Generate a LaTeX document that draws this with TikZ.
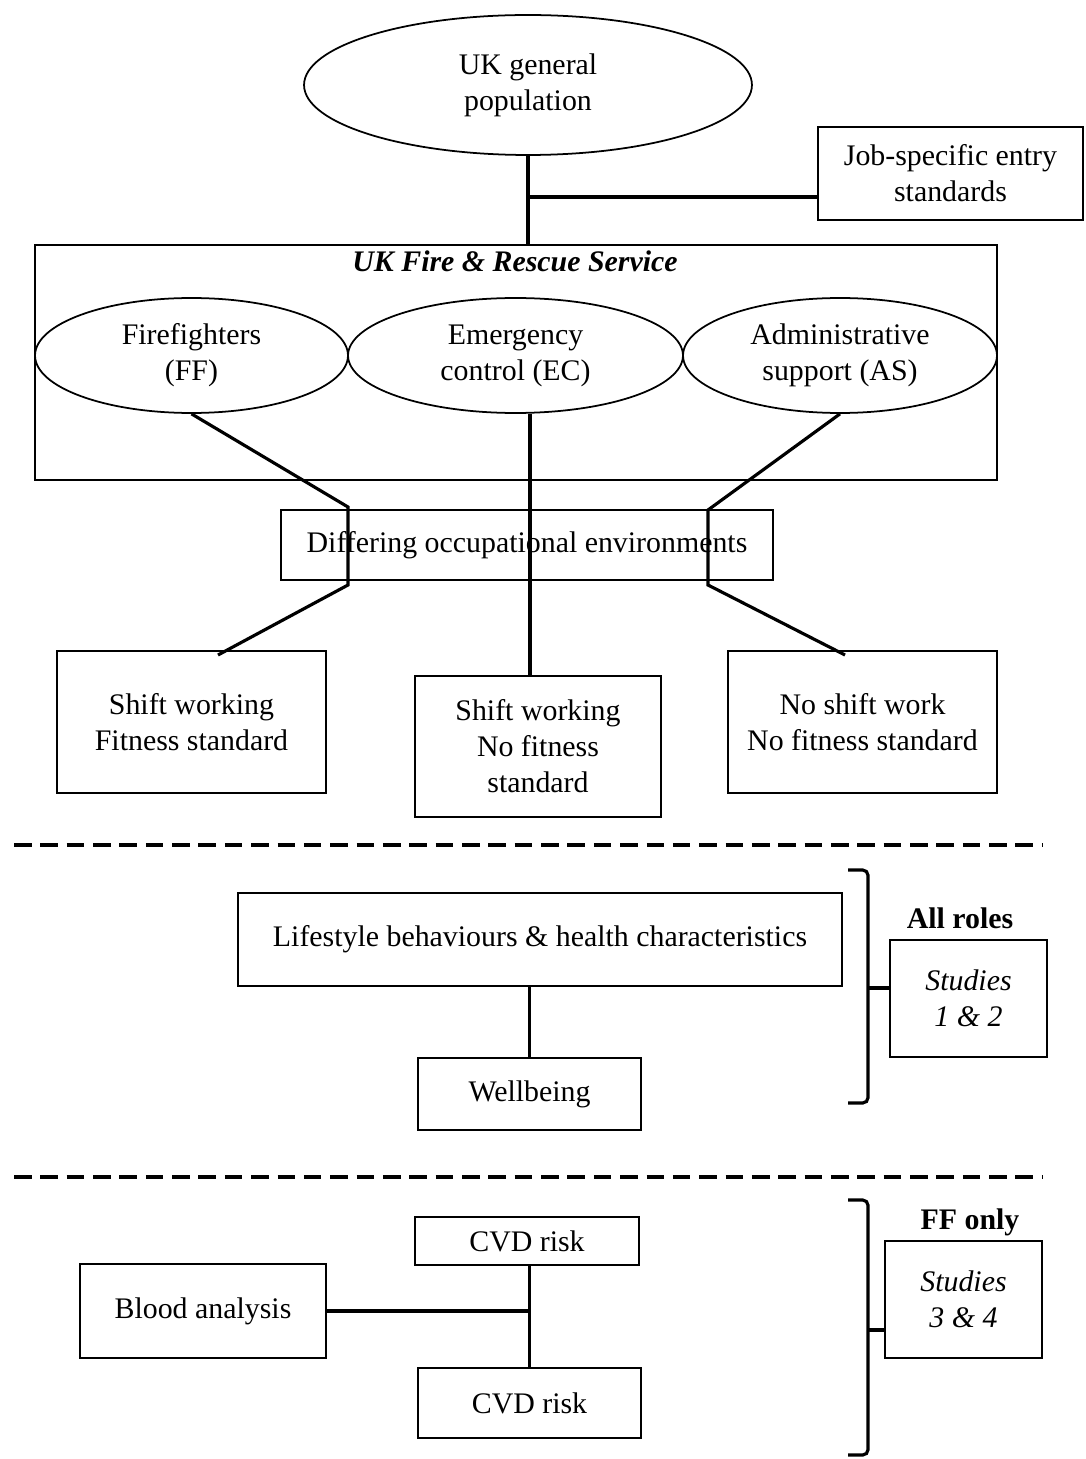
\documentclass[tikz,border=0pt]{standalone}
\usepackage{fontspec}
\setmainfont{Liberation Serif}
\usetikzlibrary{shapes.geometric}

\begin{document}
\begin{tikzpicture}[x=0.02cm,y=-0.02cm]
  \tikzstyle{main text}=[font=\fontsize{17}{20.5}\selectfont]
  \tikzstyle{oval node}=[main text,draw,line width=1pt,ellipse,align=center,inner sep=0pt]
  \tikzstyle{box node}=[main text,draw,line width=1.1pt,rectangle,align=center,inner sep=0pt]
  \tikzstyle{link}=[line width=1.8pt]
  \tikzstyle{split}=[line width=2.2pt,dash pattern=on 10pt off 5pt]
  \useasboundingbox (0,0) rectangle (1085,1459);

  % top
  \node[oval node,minimum width=8.96cm,minimum height=2.8cm] (pop) at (528,85) {UK general\\population};
  \node[box node,minimum width=5.3cm,minimum height=1.86cm] (job) at (950.5,173.5) {Job-specific entry\\standards};

  % fire & rescue service
  \node[draw,line width=1.1pt,minimum width=19.24cm,minimum height=4.7cm] (frs) at (516,362.5) {};
  \node[main text,font=\fontsize{17}{20.5}\selectfont\bfseries\itshape] (frstitle) at (515,261) {UK Fire \& Rescue Service};
  \node[oval node,minimum width=6.26cm,minimum height=2.3cm] (ff) at (191.5,355.5) {Firefighters\\(FF)};
  \node[oval node,minimum width=6.7cm,minimum height=2.3cm] (ec) at (515.5,355.5) {Emergency\\control (EC)};
  \node[oval node,minimum width=6.28cm,minimum height=2.3cm] (as) at (840,355.5) {Administrative\\support (AS)};

  \node[box node,minimum width=9.84cm,minimum height=1.4cm] (env) at (527,545) {Differing occupational environments};

  \node[box node,minimum width=5.38cm,minimum height=2.84cm] (swfit) at (191.5,722) {Shift working\\Fitness standard};
  \node[box node,minimum width=4.92cm,minimum height=2.82cm] (swnofit) at (538,746.5) {Shift working\\No fitness\\standard};
  \node[box node,minimum width=5.38cm,minimum height=2.84cm] (noshift) at (862.5,722) {No shift work\\No fitness standard};

  \coordinate (ffin) at (348,507);
  \coordinate (ffout) at (348,585);
  \coordinate (ffend) at (218,655);
  \coordinate (asin) at (708,510);
  \coordinate (asout) at (708,585);
  \coordinate (asend) at (845,655);
  \coordinate (branch) at (530,197);

  \draw[link] (pop.south) -- (pop.south |- frs.north);
  \draw[link] (branch) -- (branch -| job.west);
  \draw[link] (ff.south) -- (ffin) -- (ffout) -- (ffend);
  \draw[link] (ec.south -| branch) -- (branch |- swnofit.north);
  \draw[link] (as.south) -- (asin) -- (asout) -- (asend);

  \draw[split] (14,845) -- (1042,845);

  % all roles
  \node[box node,minimum width=12.08cm,minimum height=1.86cm] (life) at (540,939.5) {Lifestyle behaviours \& health characteristics};
  \node[box node,minimum width=4.46cm,minimum height=1.44cm] (well) at (529.5,1094) {Wellbeing};
  \node[box node,minimum width=3.14cm,minimum height=2.34cm,font=\fontsize{17}{20.5}\selectfont\itshape] (stud12) at (968.5,998.5) {Studies\\1 \& 2};
  \node[main text,font=\fontsize{17}{20.5}\selectfont\bfseries] (allroles) at (960,918) {All roles};

  \draw[link] (life.south -| well.north) -- (well.north);
  \draw[link,rounded corners=3pt] (848,870) -- (868,870) -- (868,1103) -- (848,1103);
  \draw[link] (868,988) -- (stud12.west |- 0,988);

  \draw[split] (14,1177) -- (1042,1177);

  % firefighters only
  \node[box node,minimum width=4.48cm,minimum height=0.96cm] (cvdtop) at (527,1241) {CVD risk};
  \node[box node,minimum width=4.92cm,minimum height=1.88cm] (blood) at (203,1311) {Blood analysis};
  \node[box node,minimum width=4.46cm,minimum height=1.4cm] (cvdbot) at (529.5,1403) {CVD risk};
  \node[box node,minimum width=3.14cm,minimum height=2.34cm,font=\fontsize{17}{20.5}\selectfont\itshape] (stud34) at (963.5,1299.5) {Studies\\3 \& 4};
  \node[main text,font=\fontsize{17}{20.5}\selectfont\bfseries] (ffonly) at (970,1222) {FF only};

  \draw[link] (cvdtop.south -| cvdbot.north) -- (cvdbot.north);
  \draw[link] (blood.east) -- (blood.east -| cvdbot.north);
  \draw[link,rounded corners=3pt] (848,1200) -- (868,1200) -- (868,1455) -- (848,1455);
  \draw[link] (868,1330) -- (stud34.west |- 0,1330);
\end{tikzpicture}
\end{document}
